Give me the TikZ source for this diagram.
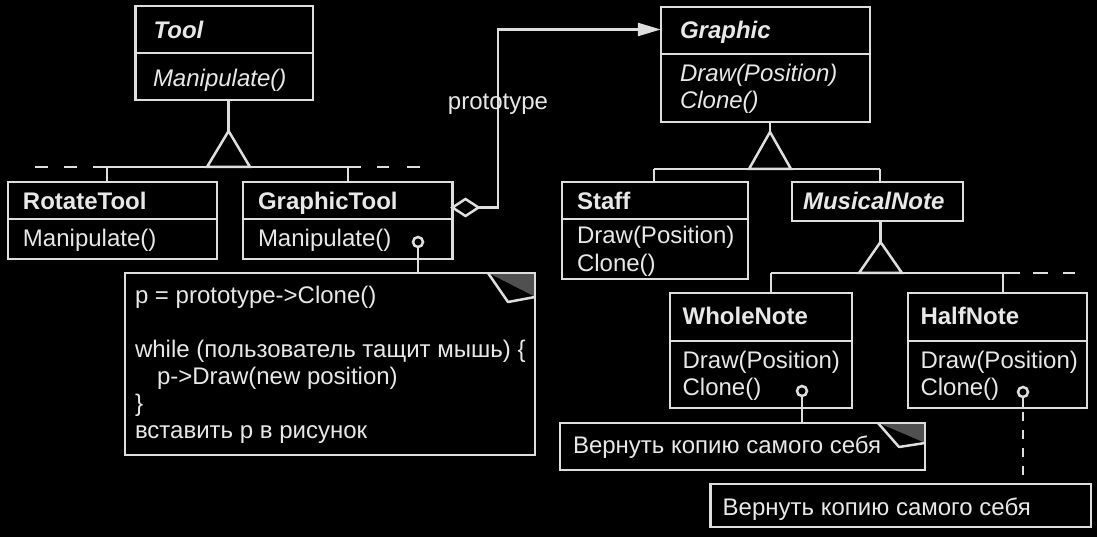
\documentclass[tikz,border=0pt]{standalone}
\usepackage{fontspec}
\setmainfont{Liberation Sans}
\usetikzlibrary{shapes.geometric,arrows.meta}
\definecolor{fg}{RGB}{222,222,222}
\definecolor{txt}{RGB}{232,232,232}
\definecolor{ear}{RGB}{80,80,80}
\tikzset{
  box/.style={draw=fg, line width=2.5pt, rectangle, inner sep=0pt, outer sep=0pt, anchor=north west},
  conn/.style={draw=fg, line width=2.5pt},
  lbl/.style={anchor=base west, inner sep=0pt, outer sep=0pt, text=txt, font=\fontsize{24}{28}\selectfont},
  lblit/.style={lbl, font=\fontsize{24}{28}\selectfont\itshape},
  lblbf/.style={lbl, font=\fontsize{24}{28}\selectfont\bfseries},
  lblbi/.style={lbl, font=\fontsize{24}{28}\selectfont\bfseries\itshape},
  pin/.style={circle, draw=fg, fill=black, line width=2.5pt, minimum size=10pt, inner sep=0pt, outer sep=0pt},
  agg/.style={diamond, draw=fg, fill=black, line width=2.5pt, minimum width=26pt, minimum height=17pt, inner sep=0pt, outer sep=0pt, anchor=west},
}
\begin{document}
\begin{tikzpicture}[x=1pt, y=-1pt]
\fill[black] (0,0) rectangle (1097,537);
\useasboundingbox (0,0) rectangle (1097,537);

% ---------- boxes ----------
\node[box, minimum width=177.2pt, minimum height=94pt] (tool) at (135.7,6) {};
\node[box, minimum width=209pt, minimum height=77pt] (rot) at (8,182) {};
\node[box, minimum width=209.5pt, minimum height=77pt] (gtool) at (243,182) {};
\node[box, minimum width=209.2pt, minimum height=115pt] (graphic) at (660.8,7) {};
\node[box, minimum width=186pt, minimum height=97pt] (staff) at (562,182) {};
\node[box, minimum width=171pt, minimum height=39pt] (mnote) at (792,182) {};
\node[box, minimum width=182pt, minimum height=115pt] (whole) at (670,293) {};
\node[box, minimum width=179pt, minimum height=115pt] (half) at (908,293) {};
\node[box, minimum width=410pt, minimum height=182pt] (note) at (125,273) {};
\node[box, minimum width=365pt, minimum height=47pt] (note1) at (560,423) {};
\node[box, minimum width=380.5pt, minimum height=43pt] (note2) at (710.5,484) {};

% dividers
\draw[conn] (tool.west |- 0,53) -- (tool.east |- 0,53);
\draw[conn] (rot.west |- 0,219) -- (rot.east |- 0,219);
\draw[conn] (gtool.west |- 0,219) -- (gtool.east |- 0,219);
\draw[conn] (graphic.west |- 0,54) -- (graphic.east |- 0,54);
\draw[conn] (staff.west |- 0,219) -- (staff.east |- 0,219);
\draw[conn] (whole.west |- 0,341) -- (whole.east |- 0,341);
\draw[conn] (half.west |- 0,341) -- (half.east |- 0,341);

% dog-ears
\fill[ear] (488,273) -- (535,273) -- (535,297) -- cycle;
\draw[conn, fill=black, line join=round] (488,273) -- (508,302) -- (535,297);
\draw[conn] (note.north west) -- (note.north east) -- (note.south east);
\fill[ear] (878,423) -- (925,423) -- (925,443) -- cycle;
\draw[conn, fill=black, line join=round] (878,423) -- (899,447) -- (925,443);
\draw[conn] (note1.north west) -- (note1.north east) -- (note1.south east);

% ---------- texts ----------
\node[lblbi] (tToolN) at (153.6,38.5) {Tool};
\node[lblit] (tToolM) at (153,86.5) {Manipulate()};
\node[lblbf] (tRotN) at (23,209.5) {RotateTool};
\node[lbl] (tRotM) at (23,247) {Manipulate()};
\node[lblbf] (tGtN) at (258,209.5) {GraphicTool};
\node[lbl] (tGtM) at (258,247) {Manipulate()};
\node[lblbi] (tGrN) at (680,38.5) {Graphic};
\node[lblit] (tGrD) at (680,81.5) {Draw(Position)};
\node[lblit] (tGrC) at (680,108.5) {Clone()};
\node[lblbf] (tStN) at (577,210) {Staff};
\node[lbl] (tStD) at (577,243.5) {Draw(Position)};
\node[lbl] (tStC) at (577,271.5) {Clone()};
\node[lblbi] (tMnN) at (803,209.5) {MusicalNote};
\node[lblbf] (tWhN) at (682.6,324.5) {WholeNote};
\node[lbl] (tWhD) at (682.6,368.5) {Draw(Position)};
\node[lbl] (tWhC) at (682.6,395) {Clone()};
\node[lblbf] (tHaN) at (920.5,324.5) {HalfNote};
\node[lbl] (tHaD) at (920.5,368.5) {Draw(Position)};
\node[lbl] (tHaC) at (920.5,395) {Clone()};
\node[lbl] (tN1) at (573,453.5) {Вернуть копию самого себя};
\node[lbl] (tN2) at (722.7,515) {Вернуть копию самого себя};
\node[lbl] (tL1) at (135,303.5) {p = prototype->Clone()};
\node[lbl] (tL2) at (135,357.5) {while (пользователь тащит мышь) \{};
\node[lbl] (tL3) at (157,384.5) {p->Draw(new position)};
\node[lbl] (tL4) at (135,411.5) {\}};
\node[lbl] (tL5) at (135,438.5) {вставить p в рисунок};

% ---------- inheritance ----------
\coordinate (ta) at (228.6,131);
\draw[conn] (tool.south -| ta) -- (ta);
\draw[conn, line join=miter] (ta) -- (207,167) -- (250,167) -- cycle;
\draw[conn] (93,167) -- (361,167);
\draw[conn] (35,167) -- (48,167);
\draw[conn] (64,167) -- (77,167);
\draw[conn] (377,167) -- (389,167);
\draw[conn] (407,167) -- (420,167);
\draw[conn] (107,167) -- (rot.north -| 107,0);
\draw[conn] (348,167) -- (gtool.north -| 348,0);

\coordinate (ga) at (770,132);
\draw[conn] (graphic.south -| ga) -- (ga);
\draw[conn, line join=miter] (ga) -- (749,169) -- (791,169) -- cycle;
\draw[conn] (654,169) -- (880,169);
\draw[conn] (654,169) -- (staff.north -| 654,0);
\draw[conn] (880,169) -- (mnote.north -| 880,0);

\coordinate (ma) at (880.5,242);
\draw[conn] (mnote.south -| ma) -- (ma);
\draw[conn, line join=miter] (ma) -- (859,273) -- (902,273) -- cycle;
\draw[conn] (771,273) -- (1020,273);
\draw[conn] (1033,273) -- (1048,273);
\draw[conn] (1063,273) -- (1075,273);
\draw[conn] (771,273) -- (whole.north -| 771,0);
\draw[conn] (1003,273) -- (half.north -| 1003,0);

% ---------- aggregation ----------
\node[agg] (dia) at (gtool.east |- 0,207.5) {};
\draw[conn, -{Triangle[length=23pt,width=13pt]}] (dia.east) -- (498,207.5) |- (graphic.west |- 0,29.5);
\node[lbl, anchor=base] (proto) at (498,110) {prototype};

% ---------- note pins ----------
\node[pin] (p1) at (418,242) {};
\draw[conn] (p1) -- (note.north -| p1);
\node[pin] (p2) at (802,391) {};
\draw[conn] (p2) -- (note1.north -| p2);
\node[pin] (p3) at (1023,392) {};
\draw[conn] (p3) -- (half.south -| p3);
\draw[conn, dash pattern=on 8.5pt off 9.5pt, dash phase=14pt] (half.south -| p3) -- (note2.north -| p3);
\end{tikzpicture}
\end{document}
